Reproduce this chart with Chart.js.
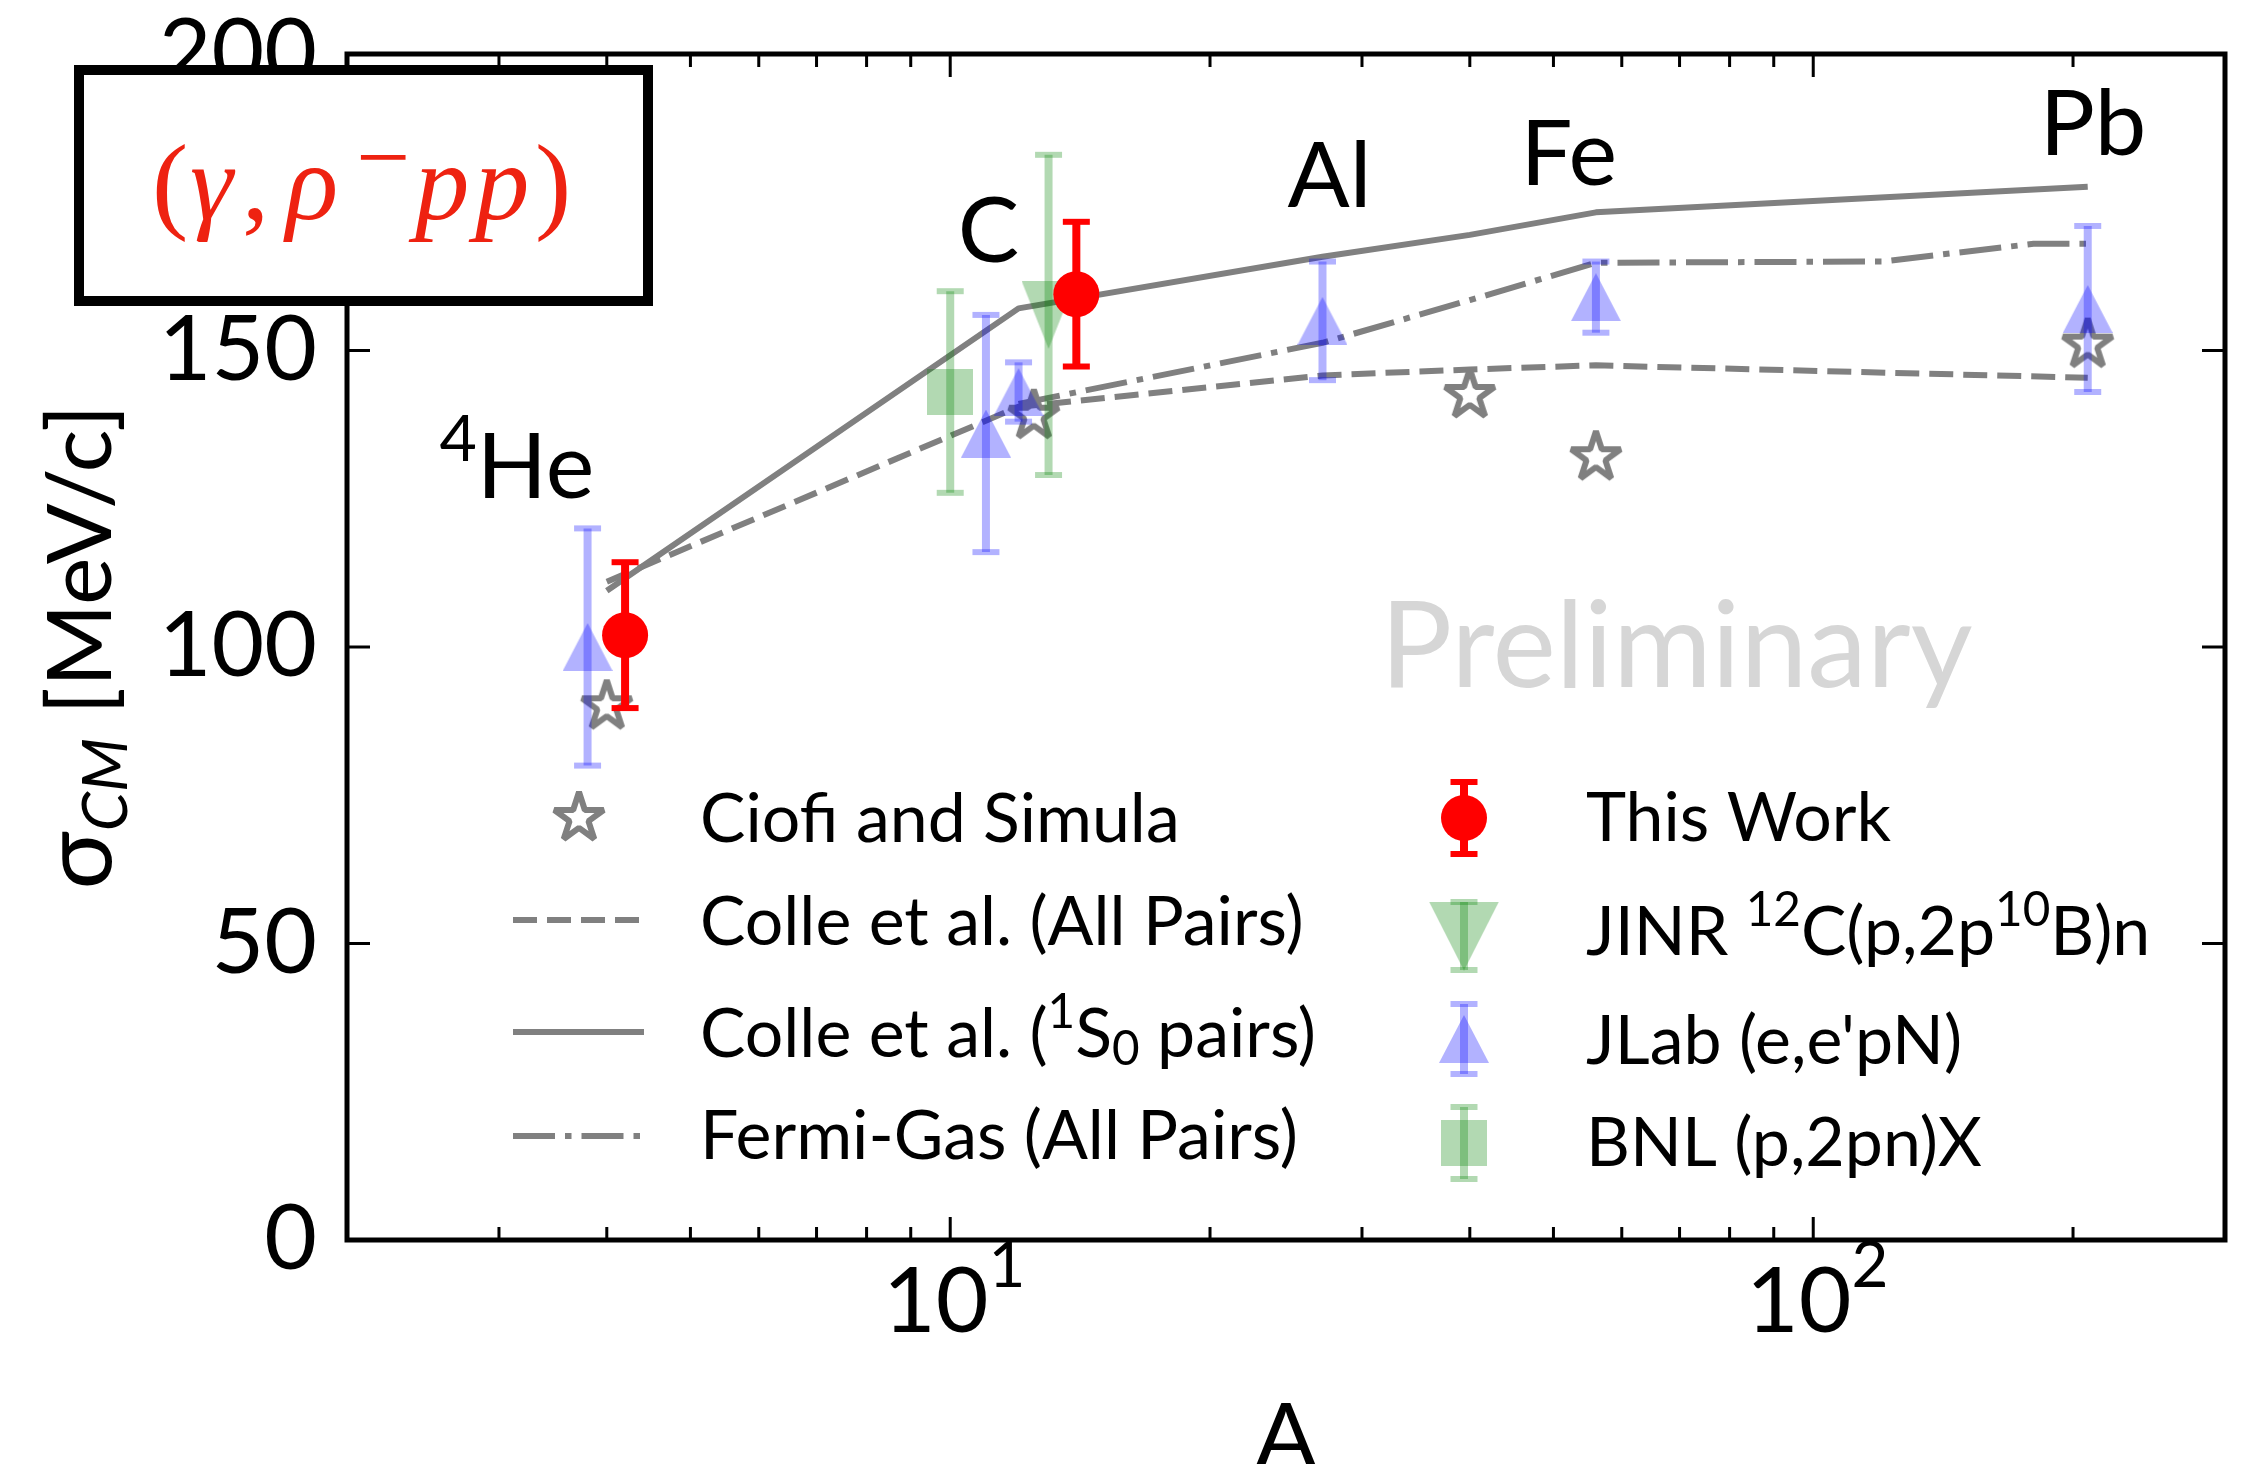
<!DOCTYPE html>
<html>
<head>
<meta charset="utf-8">
<script src="https://cdn.jsdelivr.net/npm/chart.js@4.4.1/dist/chart.umd.min.js"></script>
<style>
  html, body { margin: 0; padding: 0; background: #fff; overflow: hidden; }
  canvas { display: block; }
</style>
</head>
<body>
<canvas id="chart" width="2254" height="1464"></canvas>
<script>
/************ DATA ************/
// This work
const thisWorkA = [4.2, 14];
const thisWorkSigma = [102, 159.5];
const thisWorkErr = [12.3, 12.2];

// JLab (e,e'pN)
const jlabA = [3.8, 11, 12, 27, 56, 208];
const jlabSigma = [100, 136, 143, 155, 159, 157];
const jlabErr = [20, 20, 5, 10, 6, 14];

// JINR 12C(p,2p10B)n
const jinrA = [13];
const jinrSigma = [156];
const jinrErr = [27];

// BNL (p,2pn)X
const bnlA = [10];
const bnlSigma = [143];
const bnlErr = [17];

// Ciofi and Simula
const ciofiA = [4, 12.5, 40, 56, 208];
const ciofiSigma = [90, 139, 142.5, 132, 151];

// Colle et al. (All Pairs)
const colleAllA = [4, 12, 27, 40, 56, 208];
const colleAllSigma = [111, 140.5, 145.8, 146.8, 147.5, 145.4];

// Colle et al. (1S0 pairs)
const colleS0A = [4, 12, 27, 40, 56, 208];
const colleS0Sigma = [109.5, 157.1, 165.8, 169.5, 173.3, 177.6];

// Fermi-Gas (All Pairs)
const fermiA = [12, 27, 40, 56, 120, 180, 208];
const fermiSigma = [141, 151.3, 158.5, 164.8, 165, 168, 168];

/************ AXES ************/
const yTicks = [0, 50, 100, 150, 200];
const xMajorTicks = [10, 100];
const xMinorTicks = [3, 4, 5, 6, 7, 8, 9, 20, 30, 40, 50, 60, 70, 80, 90, 200];

/************ STYLE ************/
const FONT = 'Lato, "DejaVu Sans", sans-serif';
const SERIF = '"Liberation Serif", "DejaVu Serif", serif';
const GRAY = '#808080';
const RED = '#ff0000';
const BLUE = 'rgba(0, 0, 255, 0.3)';
const GREEN = 'rgba(0, 128, 0, 0.3)';

function makeMarker(w, h, draw) {
  const c = document.createElement('canvas');
  c.width = w;
  c.height = h;
  draw(c.getContext('2d'), w, h);
  return c;
}

const starImg = makeMarker(64, 64, (g) => {
  g.translate(32, 32);
  g.beginPath();
  for (let k = 0; k < 10; k++) {
    const r = k % 2 === 0 ? 26 : 26 * 0.382;
    const ang = -Math.PI / 2 + (k * Math.PI) / 5;
    g.lineTo(r * Math.cos(ang), r * Math.sin(ang));
  }
  g.closePath();
  g.lineWidth = 6;
  g.lineJoin = 'bevel';
  g.strokeStyle = GRAY;
  g.stroke();
});

function triangle(w, h, color, up) {
  return makeMarker(w, h, (g) => {
    g.beginPath();
    if (up) {
      g.moveTo(w / 2, 0); g.lineTo(w, h); g.lineTo(0, h);
    } else {
      g.moveTo(0, 0); g.lineTo(w, 0); g.lineTo(w / 2, h);
    }
    g.closePath();
    g.fillStyle = color;
    g.fill();
  });
}
const triUpImg = triangle(50, 48, BLUE, true);
const triDownImg = triangle(54, 68, GREEN, false);
const triDownLegendImg = triangle(70, 69, GREEN, false);
const squareImg = makeMarker(46, 46, (g, w, h) => {
  g.fillStyle = GREEN;
  g.fillRect(0, 0, w, h);
});

const pts = (xs, ys) => xs.map((x, i) => ({ x: x, y: ys[i] }));

/************ HELPERS ************/
// parts: [text, raise (em), size factor, italic]
function drawParts(ctx, parts, x, y, size, color, measureOnly) {
  let cx = x;
  ctx.textAlign = 'left';
  ctx.textBaseline = 'alphabetic';
  ctx.fillStyle = color || '#000';
  for (const [t, raise, f, it] of parts) {
    ctx.font = (it ? 'italic ' : '') + size * (f || 1) + 'px ' + FONT;
    if (!measureOnly) ctx.fillText(t, cx, y - (raise || 0) * size);
    cx += ctx.measureText(t).width;
  }
  return cx - x;
}

function errBar(ctx, x, yTop, yBot, color, lw, capHalf, capW) {
  ctx.save();
  ctx.strokeStyle = color;
  ctx.lineCap = 'butt';
  ctx.lineWidth = lw;
  ctx.beginPath();
  ctx.moveTo(x, yTop);
  ctx.lineTo(x, yBot);
  ctx.stroke();
  ctx.lineWidth = capW;
  for (const yy of [yTop, yBot]) {
    ctx.beginPath();
    ctx.moveTo(x - capHalf, yy);
    ctx.lineTo(x + capHalf, yy);
    ctx.stroke();
  }
  ctx.restore();
}

function sampleLine(ctx, x0, x1, y, dash) {
  ctx.save();
  ctx.strokeStyle = GRAY;
  ctx.lineWidth = 6;
  ctx.lineCap = 'butt';
  ctx.setLineDash(dash);
  ctx.beginPath();
  ctx.moveTo(x0, y);
  ctx.lineTo(x1, y);
  ctx.stroke();
  ctx.restore();
}

// place a glyph so that its ink starts at `left`
function inkText(ctx, t, font, left, baseline) {
  ctx.font = font;
  const m = ctx.measureText(t);
  ctx.fillText(t, left + m.actualBoundingBoxLeft, baseline);
}

function drawReaction(ctx) {
  ctx.save();
  ctx.fillStyle = '#fff';
  ctx.fillRect(79, 70, 569, 231);
  ctx.lineWidth = 10;
  ctx.strokeStyle = '#000';
  ctx.strokeRect(79, 70, 569, 231);

  ctx.fillStyle = '#ee2211';
  ctx.textAlign = 'left';
  ctx.textBaseline = 'alphabetic';
  // size so that the parentheses are 100 px tall, bottom at y = 243
  ctx.font = '100px ' + SERIF;
  const pm = ctx.measureText('(');
  const size = (100 * 100) / (pm.actualBoundingBoxAscent + pm.actualBoundingBoxDescent);
  const base = 243 - (pm.actualBoundingBoxDescent * size) / 100;
  const up = size + 'px ' + SERIF, it = 'italic ' + size + 'px ' + SERIF;
  inkText(ctx, '(', up, 156, base);
  inkText(ctx, '\u03b3', it, 191, base);
  inkText(ctx, ',', up, 246, base);
  inkText(ctx, '\u03c1', it, 283, base);
  inkText(ctx, 'p', it, 408, base);
  inkText(ctx, 'p', it, 468, base);
  inkText(ctx, ')', up, 538, base);

  // superscript minus, ink 360..406, centred at y = 156
  ctx.font = '100px ' + SERIF;
  const mm = ctx.measureText('\u2212');
  const ms = (100 * 46) / (mm.actualBoundingBoxLeft + mm.actualBoundingBoxRight);
  ctx.font = ms + 'px ' + SERIF;
  const m2 = ctx.measureText('\u2212');
  const my = 156.5 - (m2.actualBoundingBoxDescent - m2.actualBoundingBoxAscent) / 2;
  ctx.fillText('\u2212', 360 + m2.actualBoundingBoxLeft, my);
  ctx.restore();
}

/************ PLUGIN ************/
const decor = {
  id: 'decor',
  beforeDatasetsDraw(chart) {
    const ctx = chart.ctx;
    const xs = chart.scales.x, ys = chart.scales.y;
    ctx.save();
    // Preliminary watermark
    ctx.fillStyle = '#d6d6d6';
    ctx.font = '120px ' + FONT;
    ctx.textBaseline = 'alphabetic';
    ctx.fillText('Preliminary', xs.getPixelForValue(31.5), ys.getPixelForValue(93.3));
    // nucleus labels
    ctx.fillStyle = '#000';
    ctx.font = '92px ' + FONT;
    ctx.fillText('C', xs.getPixelForValue(10.2), ys.getPixelForValue(164.9));
    ctx.fillText('Al', xs.getPixelForValue(24.6), ys.getPixelForValue(174.2));
    ctx.fillText('Fe', xs.getPixelForValue(45.8), ys.getPixelForValue(177.9));
    ctx.fillText('Pb', xs.getPixelForValue(183), ys.getPixelForValue(182.9));
    drawParts(ctx, [['4', 0.4, 0.7], ['He', 0, 1]],
      xs.getPixelForValue(2.56), ys.getPixelForValue(125.1), 92, '#000');
    ctx.restore();
  },
  beforeDatasetDraw(chart, args) {
    const ds = chart.data.datasets[args.index];
    if (!ds.errors) return;
    const xs = chart.scales.x, ys = chart.scales.y;
    ds.data.forEach((p, i) => {
      errBar(chart.ctx, xs.getPixelForValue(p.x),
        ys.getPixelForValue(p.y + ds.errors[i]),
        ys.getPixelForValue(p.y - ds.errors[i]),
        ds.errColor, 8, 13.5, 6);
    });
  },
  afterDraw(chart) {
    const ctx = chart.ctx;
    const a = chart.chartArea;
    const xs = chart.scales.x, ys = chart.scales.y;
    ctx.save();

    // ticks, pointing inward on all sides
    ctx.strokeStyle = '#000';
    ctx.lineWidth = 3;
    ctx.beginPath();
    xs.ticks.forEach((t) => {
      const px = xs.getPixelForValue(t.value);
      const len = xMajorTicks.includes(t.value) ? 23 : 13;
      ctx.moveTo(px, a.bottom); ctx.lineTo(px, a.bottom - len);
      ctx.moveTo(px, a.top); ctx.lineTo(px, a.top + len);
    });
    yTicks.forEach((v) => {
      const py = ys.getPixelForValue(v);
      ctx.moveTo(a.left, py); ctx.lineTo(a.left + 23, py);
      ctx.moveTo(a.right, py); ctx.lineTo(a.right - 23, py);
    });
    ctx.stroke();

    // frame
    ctx.lineWidth = 5;
    ctx.strokeRect(a.left, a.top, a.right - a.left, a.bottom - a.top);

    // x tick labels 10^n
    xMajorTicks.forEach((v) => {
      const parts = [['10', 0, 1], [String(Math.round(Math.log10(v))), 0.5, 0.7]];
      const w = drawParts(ctx, parts, 0, 0, 91, '#000', true);
      drawParts(ctx, parts, xs.getPixelForValue(v) - w / 2 + 4, 1332, 91, '#000');
    });

    // axis titles
    ctx.fillStyle = '#000';
    ctx.font = '92px ' + FONT;
    ctx.textAlign = 'center';
    ctx.textBaseline = 'alphabetic';
    ctx.fillText('A', (a.left + a.right) / 2, 1468);

    ctx.save();
    ctx.translate(111, (a.top + a.bottom) / 2);
    ctx.rotate(-Math.PI / 2);
    const yParts = [['σ', 0, 1.08], ['CM', -0.18, 0.7, true], [' [MeV/c]', 0, 1]];
    const yw = drawParts(ctx, yParts, 0, 0, 90, '#000', true);
    drawParts(ctx, yParts, -yw / 2, 0, 90, '#000');
    ctx.restore();

    // legend
    const lx = 579, tx1 = 700;
    ctx.drawImage(starImg, lx - 32, 818 - 32);
    drawParts(ctx, [['Ciofi and Simula']], tx1, 842, 68);
    sampleLine(ctx, 513, 644, 920, [24, 10]);
    drawParts(ctx, [['Colle et al. (All Pairs)']], tx1, 945, 68);
    sampleLine(ctx, 513, 644, 1032, []);
    drawParts(ctx, [['Colle et al. ('], ['1', 0.43, 0.7], ['S'], ['0', -0.12, 0.7], [' pairs)']], tx1, 1057, 68);
    sampleLine(ctx, 513, 644, 1136, [42, 10, 6.5, 10]);
    drawParts(ctx, [['Fermi-Gas (All Pairs)']], tx1, 1159, 68);

    const mx = 1464, tx2 = 1586;
    errBar(ctx, mx, 782, 854, RED, 8, 13.5, 6);
    ctx.fillStyle = RED;
    ctx.beginPath();
    ctx.arc(mx, 818, 23, 0, Math.PI * 2);
    ctx.fill();
    drawParts(ctx, [['This Work']], tx2, 841, 68);

    errBar(ctx, mx, 902, 970, GREEN, 8, 13.5, 6);
    ctx.drawImage(triDownLegendImg, mx - 35, 936 - 34.5);
    drawParts(ctx, [['JINR '], ['12', 0.43, 0.7], ['C(p,2p'], ['10', 0.43, 0.7], ['B)n']], tx2, 955, 68);

    errBar(ctx, mx, 1004, 1074, BLUE, 8, 13.5, 6);
    ctx.drawImage(triUpImg, mx - 25, 1039 - 24);
    drawParts(ctx, [["JLab (e,e'pN)"]], tx2, 1064, 68);

    errBar(ctx, mx, 1107, 1179, GREEN, 8, 13.5, 6);
    ctx.drawImage(squareImg, mx - 23, 1143 - 23);
    drawParts(ctx, [['BNL (p,2pn)X']], tx2, 1166, 68);

    // reaction label box
    drawReaction(ctx);

    ctx.restore();
  }
};

/************ CHART ************/
const ctx = document.getElementById('chart').getContext('2d');
const chart = new Chart(ctx, {
  type: 'scatter',
  data: {
    datasets: [
      {
        label: 'This Work',
        data: pts(thisWorkA, thisWorkSigma),
        errors: thisWorkErr, errColor: RED,
        pointStyle: 'circle', pointRadius: 23,
        pointBackgroundColor: RED, pointBorderWidth: 0,
      },
      {
        label: 'JINR 12C(p,2p10B)n',
        data: pts(jinrA, jinrSigma),
        errors: jinrErr, errColor: GREEN,
        pointStyle: triDownImg, pointRadius: 10,
      },
      {
        label: "JLab (e,e'pN)",
        data: pts(jlabA, jlabSigma),
        errors: jlabErr, errColor: BLUE,
        pointStyle: triUpImg, pointRadius: 10,
      },
      {
        label: 'BNL (p,2pn)X',
        data: pts(bnlA, bnlSigma),
        errors: bnlErr, errColor: GREEN,
        pointStyle: squareImg, pointRadius: 10,
      },
      {
        label: 'Ciofi and Simula',
        data: pts(ciofiA, ciofiSigma),
        pointStyle: starImg, pointRadius: 10,
      },
      {
        label: 'Fermi-Gas (All Pairs)',
        data: pts(fermiA, fermiSigma),
        showLine: true, fill: false, pointRadius: 0,
        borderColor: GRAY, borderWidth: 6, borderJoinStyle: 'round',
        borderDash: [42, 10, 6.5, 10],
      },
      {
        label: 'Colle et al. (1S0 pairs)',
        data: pts(colleS0A, colleS0Sigma),
        showLine: true, fill: false, pointRadius: 0,
        borderColor: GRAY, borderWidth: 6, borderJoinStyle: 'round',
      },
      {
        label: 'Colle et al. (All Pairs)',
        data: pts(colleAllA, colleAllSigma),
        showLine: true, fill: false, pointRadius: 0,
        borderColor: GRAY, borderWidth: 6, borderJoinStyle: 'round',
        borderDash: [24, 10],
      },
    ],
  },
  options: {
    responsive: false,
    animation: false,
    devicePixelRatio: 1,
    layout: { padding: { left: 0, top: 54, right: 29, bottom: 0 } },
    plugins: { legend: { display: false }, tooltip: { enabled: false } },
    scales: {
      x: {
        type: 'logarithmic',
        min: 2,
        max: 300,
        grid: { display: false },
        border: { display: false },
        ticks: { display: false },
        afterBuildTicks: (s) => {
          s.ticks = [...xMinorTicks, ...xMajorTicks].sort((p, q) => p - q).map((v) => ({ value: v }));
        },
        afterFit: (s) => {
          s.height = 224;
          s.paddingLeft = 0; s.paddingRight = 0;
        },
      },
      y: {
        type: 'linear',
        min: 0,
        max: 200,
        grid: { display: false },
        border: { display: false },
        afterBuildTicks: (s) => { s.ticks = yTicks.map((v) => ({ value: v })); },
        ticks: {
          font: { family: FONT, size: 91 },
          color: '#000',
          padding: 22,
        },
        afterFit: (s) => {
          s.width = 347;
          s.paddingTop = 0; s.paddingBottom = 0;
        },
      },
    },
  },
  plugins: [decor],
});
</script>
</body>
</html>
